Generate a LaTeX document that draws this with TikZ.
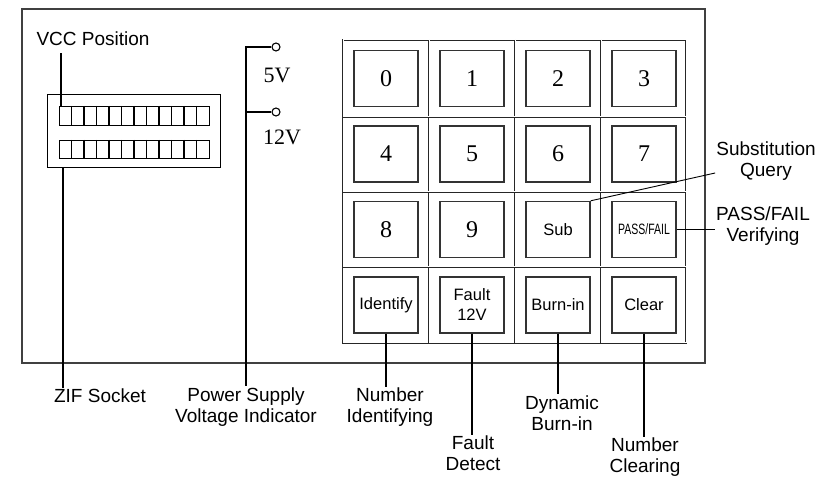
\documentclass[tikz,border=0pt]{standalone}
\usepackage{fontspec}
\setmainfont{Liberation Sans}
\newfontfamily\digitfont{Liberation Serif}
\usetikzlibrary{positioning,calc}

\begin{document}
\begin{tikzpicture}[x=1pt,y=-1pt,
 key/.style={draw=black!80,line width=1.4pt,minimum width=64pt,minimum height=56pt,
 inner sep=0pt,align=center},
 digitkey/.style={key,font=\digitfont\fontsize{24}{24}\selectfont},
 fkey/.style={key,font=\fontsize{16.5}{20}\selectfont},
 gridline/.style={draw=black!85,line width=0.9pt,double,double distance=1pt},
 callout/.style={font=\fontsize{19}{21}\selectfont,align=center,inner sep=1pt},
 lead/.style={draw=black,line width=1.1pt},
 volt/.style={font=\digitfont\fontsize{22}{22}\selectfont,inner sep=0pt},
 term/.style={circle,draw,line width=1.1pt,minimum size=8pt,inner sep=0pt}]
\useasboundingbox (0,0) rectangle (831,478);
% front panel and keypad frame
\draw[draw=black!75,line width=1.8pt] (22,9) rectangle (705,363);
\draw[gridline] (343,40) rectangle (686,343);
\foreach \x in {429,515,601} \draw[gridline] (\x,40) -- (\x,343);
\foreach \y in {117,192,267} \draw[gridline] (343,\y) -- (686,\y);
% keys
\foreach \d in {0,...,9}{
 \pgfmathtruncatemacro\c{mod(\d,4)}
 \pgfmathtruncatemacro\r{div(\d,4)}
 \node[digitkey] (k\d) at (386+86*\c,78.5+75.5*\r) {\d};
}
\node[fkey] (sub) at (558,229.5) {Sub};
\node[fkey] (pf) at (644,229.5) {\fontsize{15}{15}\selectfont\scalebox{0.7}[1]{PASS/FAIL}};
\node[fkey] (ident) at (386,305) {Identify};
\node[fkey] (fault) at (472,305) {Fault\\12V};
\node[fkey] (burn) at (558,305) {Burn-in};
\node[fkey] (clear) at (644,305) {Clear};
% ZIF socket
\node[draw,line width=1.1pt,minimum width=173pt,minimum height=73pt,inner sep=0pt,
 anchor=north west] (zif) at (47,94) {};
\node[draw,line width=1.4pt,minimum width=150pt,minimum height=19pt,inner sep=0pt,
 anchor=north west] (toprow) at (59,106) {};
\node[draw,line width=1.4pt,minimum width=150pt,minimum height=18pt,inner sep=0pt,
 anchor=north west] (botrow) at (59,140) {};
\foreach \n in {1,...,11}{
 \draw[line width=1.4pt] ($(toprow.north west)+(12.5*\n,0)$) -- ($(toprow.south west)+(12.5*\n,0)$);
 \draw[line width=1.4pt] ($(botrow.north west)+(12.5*\n,0)$) -- ($(botrow.south west)+(12.5*\n,0)$);
}
% power supply terminals
\node[term] (t5) at (276,47) {};
\node[term] (t12) at (276,112) {};
\node[volt] (v5) at (277,75) {5V};
\node[volt] (v12) at (282,137) {12V};
% callouts
\node[callout] (vcc) at (93,39) {VCC Position};
\node[callout] (ziflbl) at (100,396) {ZIF Socket};
\node[callout] (pslbl) at (246,407) {Power Supply\\Voltage Indicator};
\node[callout] (numid) at (390,407.5) {Number\\Identifying};
\node[callout] (fdet) at (473,453.5) {Fault\\Detect};
\node[callout] (dburn) at (562,413) {Dynamic\\Burn-in};
\node[callout] (nclr) at (645,457.5) {Number\\Clearing};
\node[callout] (subq) at (766,161) {Substitution\\Query};
\node[callout] (pfv) at (763,226) {PASS/FAIL\\Verifying};
% leads
\coordinate (vccpin) at ([xshift=2pt]toprow.north west);
\coordinate (zifpin) at ([xshift=16pt]zif.south west);
\draw[lead] ([yshift=-6pt]vccpin |- vcc.south) -- (vccpin);
\draw[lead] (zifpin) -- (zifpin |- ziflbl.north);
\draw[lead] (t5.west) -| (pslbl.north);
\draw[lead] (t12.west) -- (t12.west -| pslbl.north);
\draw[lead] (ident.south) -- (ident.south |- numid.north);
\draw[lead] (fault.south) -- (fault.south |- fdet.north);
\draw[lead] (burn.south) -- (burn.south |- dburn.north);
\draw[lead] (clear.south) -- (clear.south |- nclr.north);
\draw[lead,line width=0.9pt] (sub.north east) -- ([yshift=-12pt]subq.west);
\draw[lead] (pf.east) -- (pf.east -| pfv.west);
\end{tikzpicture}
\end{document}
